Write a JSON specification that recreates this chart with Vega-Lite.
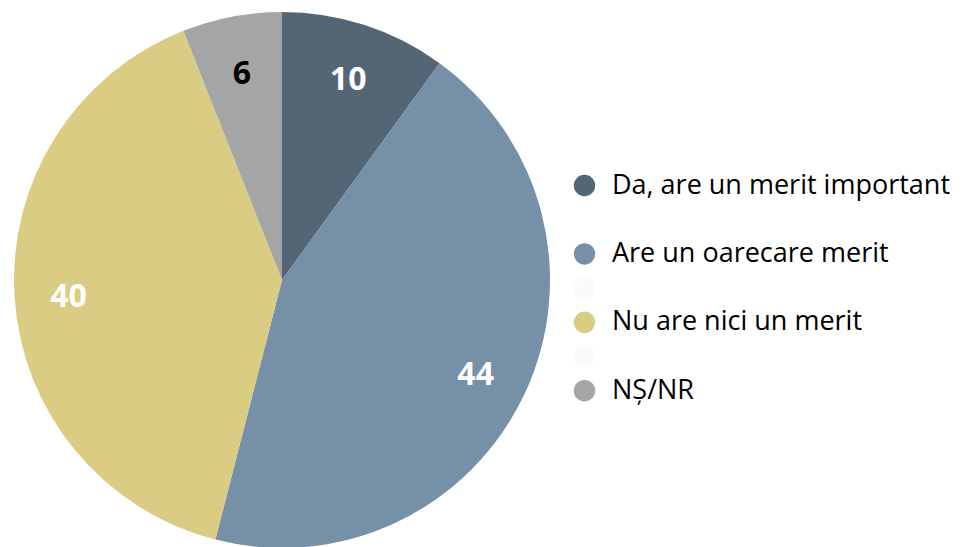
{
  "$schema": "https://vega.github.io/schema/vega-lite/v6.json",
  "autosize": "none",
  "width": 564,
  "height": 560,
  "padding": {"left": 0, "top": 0, "right": 403, "bottom": 0},
  "background": "white",
  "config": {"view": {"stroke": null}},
  "data": {
    "values": [
      {"cat": "Da, are un merit important", "value": 10, "ord": 1},
      {"cat": "Are un oarecare merit", "value": 44, "ord": 2},
      {"cat": "Nu are nici un merit", "value": 40, "ord": 3},
      {"cat": "NȘ/NR", "value": 6, "ord": 4}
    ]
  },
  "encoding": {
    "theta": {"field": "value", "type": "quantitative", "stack": true},
    "order": {"field": "ord", "type": "quantitative"}
  },
  "layer": [
    {
      "mark": {"type": "arc", "radius": 268},
      "encoding": {
        "color": {
          "field": "cat",
          "type": "nominal",
          "scale": {
            "domain": ["Da, are un merit important", "   ", "Are un oarecare merit", " ", "Nu are nici un merit", "  ", "NȘ/NR"],
            "range": ["#546576", "#FFFFFF", "#7690A7", "#FAFAFA", "#DBCC84", "#FAFAFA", "#A5A5A5"]
          },
          "legend": {
            "title": null,
            "orient": "none",
            "legendX": 571,
            "legendY": 172,
            "symbolType": "circle",
            "symbolSize": 460,
            "symbolStrokeWidth": 0,
            "labelFont": "Open Sans",
            "labelFontSize": 27,
            "labelColor": "black",
            "labelLimit": 400,
            "labelOffset": 14,
            "rowPadding": 6.2
          }
        }
      }
    },
    {
      "mark": {"type": "text", "radius": 214, "dy": 4, "font": "Open Sans", "fontWeight": "bold", "fontSize": 32, "baseline": "middle", "align": "center"},
      "encoding": {
        "text": {"field": "value", "type": "quantitative"},
        "color": {
          "condition": {"test": "datum.cat === 'NȘ/NR'", "value": "black"},
          "value": "white"
        }
      }
    }
  ]
}
